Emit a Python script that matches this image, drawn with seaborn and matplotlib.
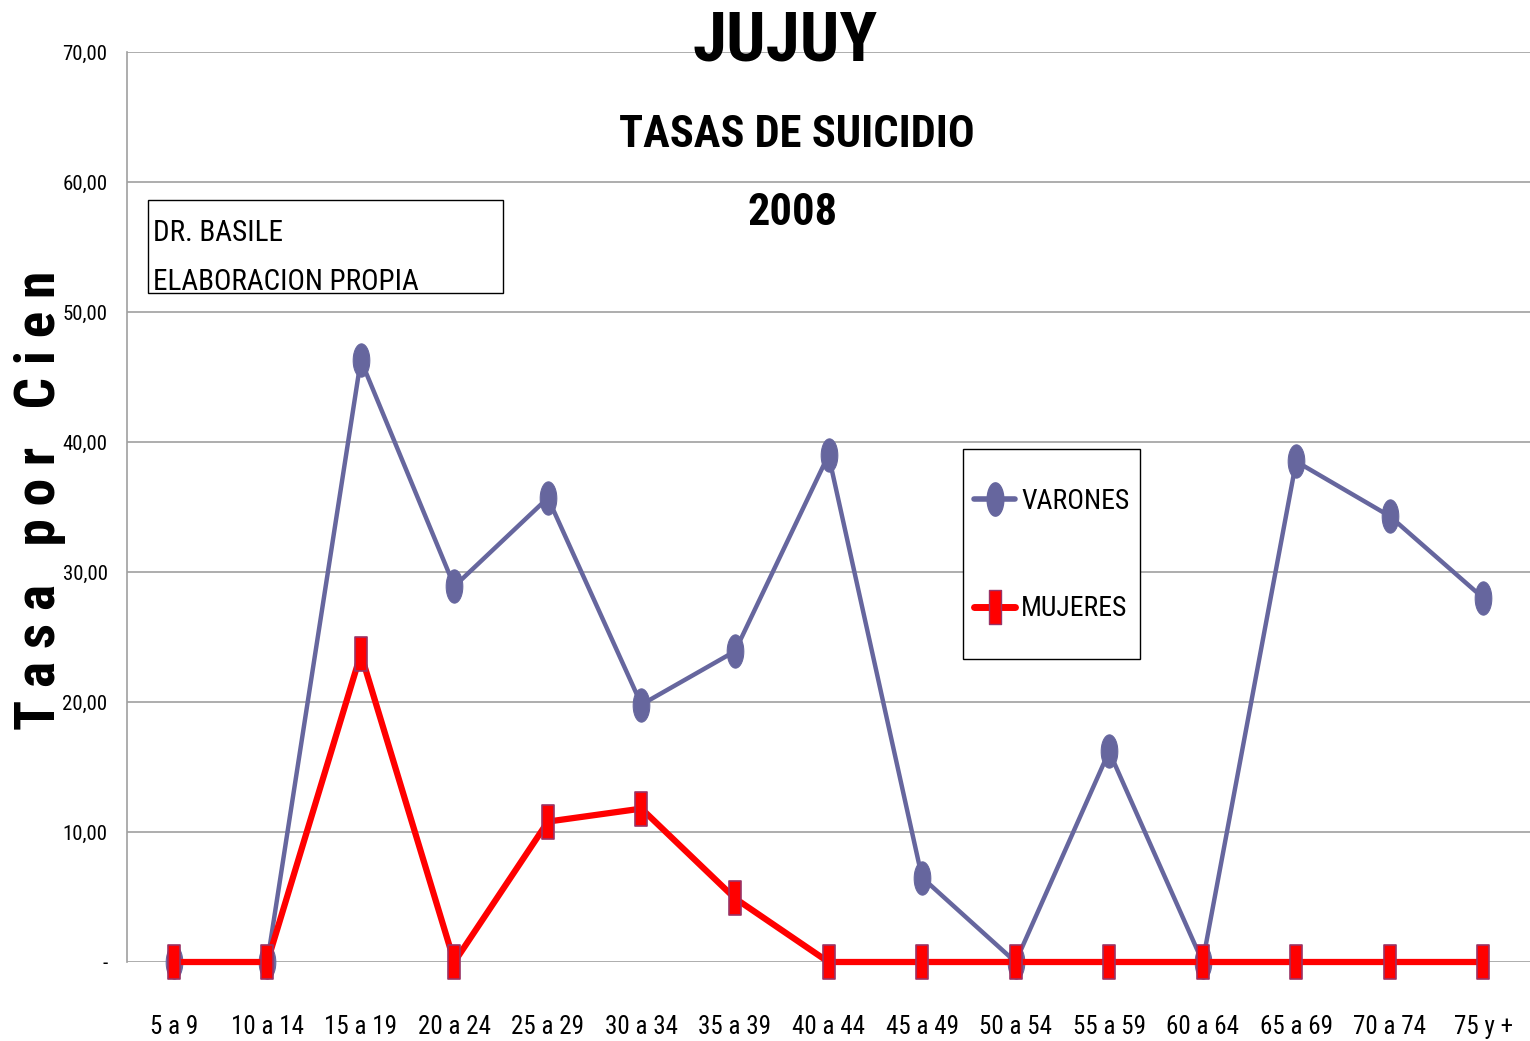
import matplotlib
matplotlib.use("Agg")
import matplotlib.pyplot as plt
import seaborn as sns
import pandas as pd
import numpy as np
from matplotlib import font_manager
from matplotlib.path import Path
from matplotlib.patches import Rectangle
from matplotlib.lines import Line2D

categories = ["5 a 9", "10 a 14", "15 a 19", "20 a 24", "25 a 29", "30 a 34", "35 a 39",
              "40 a 44", "45 a 49", "50 a 54", "55 a 59", "60 a 64", "65 a 69", "70 a 74", "75 y +"]
varones = [0, 0, 46.3, 28.9, 35.7, 19.8, 23.9, 39.0, 6.5, 0, 16.2, 0, 38.5, 34.3, 28.0]
mujeres = [0, 0, 23.7, 0, 10.8, 11.8, 4.9, 0, 0, 0, 0, 0, 0, 0, 0]
yticks = [0, 10, 20, 30, 40, 50, 60, 70]
ytick_labels = ["-", "10,00", "20,00", "30,00", "40,00", "50,00", "60,00", "70,00"]

sns.set_theme(style="white")
names = {f.name for f in font_manager.fontManager.ttflist}
fam = None
for cand in ["Liberation Sans Narrow", "Roboto Condensed", "DejaVu Sans Condensed", "Open Sans Condensed"]:
    if cand in names:
        fam = cand
        break
if fam is None:
    fam = "DejaVu Sans"
plt.rcParams['font.family'] = [fam, 'DejaVu Sans']
plt.rcParams['text.color'] = 'black'
plt.rcParams['xtick.color'] = 'black'
plt.rcParams['ytick.color'] = 'black'

df = pd.DataFrame({
    "cat": categories * 2,
    "val": varones + mujeres,
    "serie": ["VARONES"] * len(categories) + ["MUJERES"] * len(categories),
})

t = np.linspace(0, 2 * np.pi, 40)
ellipse = Path(np.column_stack([0.5 * np.cos(t), np.sin(t)]), closed=True)
rect = Path([(-0.38, -1), (0.38, -1), (0.38, 1), (-0.38, 1), (-0.38, -1)], closed=True)

c_var = "#66669E"
c_muj = "#FF0000"

fig = plt.figure(figsize=(15.3, 10.41), dpi=100)
ax = fig.add_axes([127 / 1530, 1 - 962 / 1041, 1403 / 1530, 910 / 1041])

sns.lineplot(data=df[df.serie == "VARONES"], x="cat", y="val", ax=ax, sort=False,
             color=c_var, linewidth=3.2, marker=ellipse, markersize=24,
             markerfacecolor=c_var, markeredgecolor=c_var, label="VARONES", legend=False,
             clip_on=False, zorder=3)
sns.lineplot(data=df[df.serie == "MUJERES"], x="cat", y="val", ax=ax, sort=False,
             color=c_muj, linewidth=4.5, marker=rect, markersize=24,
             markerfacecolor=c_muj, markeredgecolor="#993366", markeredgewidth=1.2,
             label="MUJERES", legend=False, clip_on=False, zorder=4)

ax.set_xlim(-0.5, len(categories) - 0.5)
ax.set_ylim(0, 70)
ax.set_yticks(yticks)
ax.set_yticklabels(ytick_labels, fontsize=15)
ax.set_xticks(range(len(categories)))
ax.set_xticklabels(categories, fontsize=18)
ax.tick_params(axis='x', pad=38, length=0)
ax.tick_params(axis='y', pad=14, length=0)
ax.set_xlabel("")
ax.set_ylabel("")
ax.grid(axis='y', color="#A0A0A0", linewidth=1.2)
ax.set_axisbelow(True)
for s in ["top", "right", "bottom"]:
    ax.spines[s].set_visible(False)
ax.spines["left"].set_color("#A0A0A0")
ax.spines["left"].set_linewidth(1.2)

fig.text(40 / 1530, 1 - 500 / 1041, "T a s a   p o r   C i e n", rotation=90, fontsize=40,
         fontweight='bold', ha='center', va='center')

fig.text(785 / 1530, 1 - 42 / 1041, "JUJUY", fontsize=50, fontweight='bold', ha='center', va='center')
fig.text(797 / 1530, 1 - 135 / 1041, "TASAS DE SUICIDIO", fontsize=32, fontweight='bold', ha='center', va='center')
fig.text(793 / 1530, 1 - 213 / 1041, "2008", fontsize=32, fontweight='bold', ha='center', va='center')

fig.patches.append(Rectangle((148 / 1530, 1 - 293 / 1041), 355 / 1530, 93 / 1041,
                             transform=fig.transFigure, fill=False, edgecolor='black', linewidth=1))
fig.text(153 / 1530, 1 - 233 / 1041, "DR. BASILE", fontsize=21, ha='left', va='center')
fig.text(153 / 1530, 1 - 282 / 1041, "ELABORACION PROPIA", fontsize=21, ha='left', va='center')

# legend frame
fig.patches.append(Rectangle((963 / 1530, 1 - 659 / 1041), 177 / 1530, 210 / 1041,
                             transform=fig.transFigure, facecolor='white', edgecolor='black',
                             linewidth=1, zorder=5))

handles = [Line2D([0], [0], color=c_var, linewidth=4, marker=ellipse, markersize=24,
                  markerfacecolor=c_var, markeredgecolor=c_var),
           Line2D([0], [0], color=c_muj, linewidth=5, marker=rect, markersize=24,
                  markerfacecolor=c_muj, markeredgecolor="#993366")]
leg = fig.legend(handles, ["VARONES", "MUJERES"], loc='center',
                 bbox_to_anchor=(1051.5 / 1530, 1 - 555 / 1041),
                 fontsize=20, frameon=False, labelspacing=2.9,
                 handlelength=1.5, handletextpad=0.2, borderpad=0, borderaxespad=0)
leg.set_zorder(6)

fig.savefig("out.png", dpi=100)
